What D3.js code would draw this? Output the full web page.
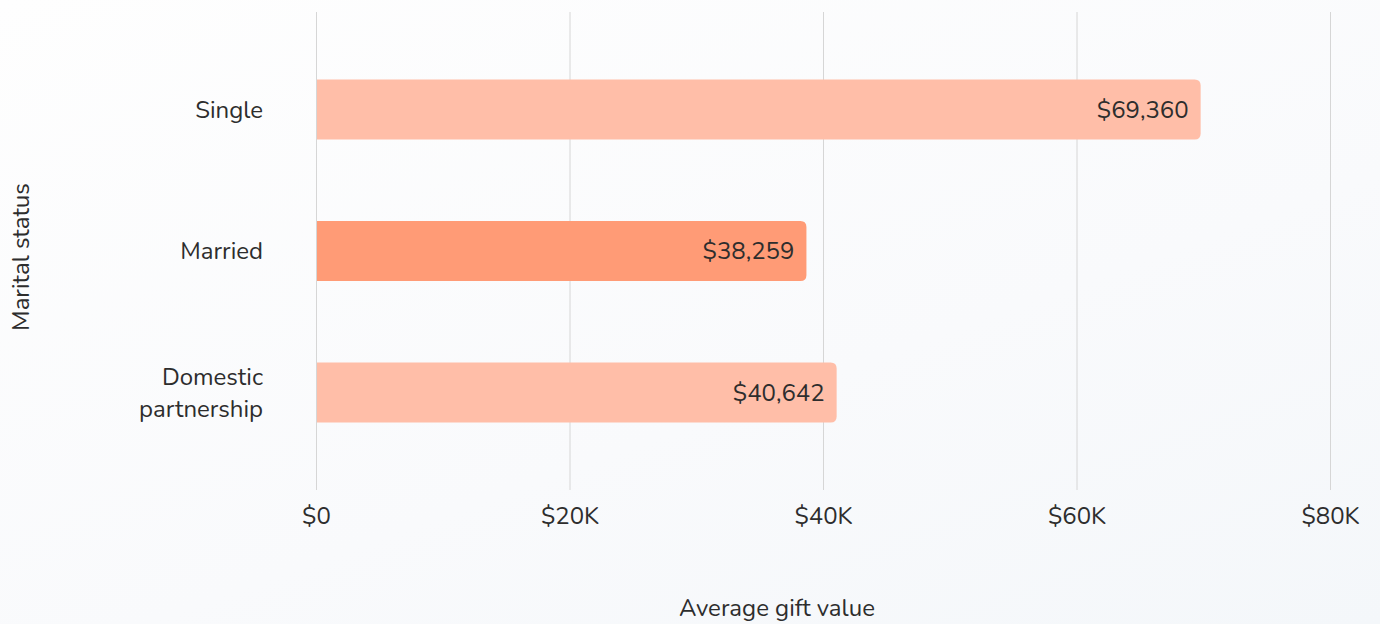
<!DOCTYPE html>
<html><head><meta charset="utf-8">
<script src="https://cdn.jsdelivr.net/npm/d3@7"></script>
<style>
html,body{margin:0;padding:0;}
body{width:1380px;height:624px;overflow:hidden;background:linear-gradient(160deg,#fefefe 0%,#f9fafc 60%,#f4f7fa 100%);}
svg text{font-family:"Nunito","Lato","Open Sans",sans-serif;fill:#2d2d2d;}
</style></head>
<body>
<svg id="chart" width="1380" height="624"></svg>
<script>
const categories = ["Single", "Married", "Domestic partnership"];
const values = [69360, 38259, 40642];
const barColors = ["#ffbea8", "#ff9b76", "#ffbea8"];
const tickValues = [0, 20000, 40000, 60000, 80000];
const tickLabels = ["$0", "$20K", "$40K", "$60K", "$80K"];
const xTitle = "Average gift value";
const yTitle = "Marital status";

(function () {
const svg = d3.select("#chart");
const mL = 316.5, mR = 1330.5, mT = 12, mB = 490;
const fs = 24;
const x = d3.scaleLinear().domain([0, 80000]).range([mL, mR]);
const y = d3.scaleBand().domain(categories).range([mT, mB]).paddingInner(0.576).paddingOuter(0.477);

// gridlines
svg.append("g").selectAll("line").data(tickValues).join("line")
  .attr("x1", d => x(d)).attr("x2", d => x(d))
  .attr("y1", mT).attr("y2", mB)
  .attr("stroke", "#d6d6d6").attr("stroke-width", 1);

// bars with rounded right corners
const r = 6;
function barPath(d, i) {
  const x0 = x(0) + 0.5, x1 = x(d) + 5, y0 = y(categories[i]), h = y.bandwidth();
  return `M${x0},${y0}H${x1 - r}Q${x1},${y0} ${x1},${y0 + r}V${y0 + h - r}Q${x1},${y0 + h} ${x1 - r},${y0 + h}H${x0}Z`;
}
svg.append("g").selectAll("path").data(values).join("path")
  .attr("d", (d, i) => barPath(d, i))
  .attr("fill", (d, i) => barColors[i]);

// value labels
const fmt = d3.format("$,");
svg.append("g").selectAll("text").data(values).join("text")
  .attr("x", d => x(d) - 7)
  .attr("y", (d, i) => y(categories[i]) + y.bandwidth() / 2)
  .attr("dy", "0.35em")
  .attr("text-anchor", "end")
  .attr("font-size", fs)
  .text(d => fmt(d));

// category labels
const catG = svg.append("g");
categories.forEach((c, i) => {
  const cy = y(c) + y.bandwidth() / 2;
  const words = c === "Domestic partnership" ? ["Domestic", "partnership"] : [c];
  const t = catG.append("text").attr("text-anchor", "end").attr("font-size", fs);
  words.forEach((w, k) => {
    t.append("tspan").attr("x", 263)
      .attr("y", cy + (k - (words.length - 1) / 2) * 32)
      .attr("dy", "0.35em").text(w);
  });
});

// x tick labels
svg.append("g").selectAll("text").data(tickValues).join("text")
  .attr("x", d => x(d)).attr("y", 516).attr("dy", "0.35em")
  .attr("text-anchor", "middle").attr("font-size", fs)
  .text((d, i) => tickLabels[i]);

// axis titles
svg.append("text").attr("x", 777).attr("y", 608).attr("dy", "0.35em")
  .attr("text-anchor", "middle").attr("font-size", fs).text(xTitle);
svg.append("text").attr("transform", "translate(21,257) rotate(-90)")
  .attr("dy", "0.35em").attr("text-anchor", "middle").attr("font-size", fs).text(yTitle);
})();
</script>
</body></html>
